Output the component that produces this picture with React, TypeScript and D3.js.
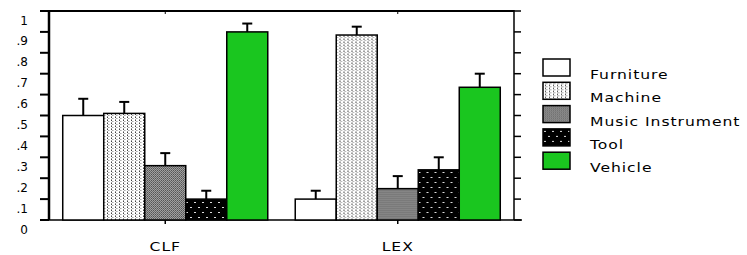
import * as d3 from "d3";

const width = 747;
const height = 255;
const margin = { left: 49, right: 233, top: 11, bottom: 35 };

const categories = ["CLF", "LEX"];
const series = ["Furniture", "Machine", "Music Instrument", "Tool", "Vehicle"];
const clfMeans = [0.5, 0.51, 0.26, 0.1, 0.9];
const clfErrors = [0.08, 0.055, 0.06, 0.04, 0.04];
const lexMeans = [0.1, 0.885, 0.15, 0.24, 0.635];
const lexErrors = [0.04, 0.04, 0.06, 0.06, 0.065];
const yTicks = [0, 0.1, 0.2, 0.3, 0.4, 0.5, 0.6, 0.7, 0.8, 0.9, 1];
const yTickLabels = ["0", ".1", ".2", ".3", ".4", ".5", ".6", ".7", ".8", ".9", "1"];

const fills = ["#ffffff", "url(#machine)", "url(#music)", "url(#tool)", "#1ac61f"];
const font = "'DejaVu Sans', Verdana, sans-serif";

export default function App() {
  const rows = categories.map((c, i) => ({
    category: c,
    means: i === 0 ? clfMeans : lexMeans,
    errors: i === 0 ? clfErrors : lexErrors,
  }));

  const right = width - margin.right;
  const bottom = height - margin.bottom;

  const x0 = d3.scaleBand().domain(categories).range([margin.left, right]).padding(0);
  const x1 = d3
    .scaleBand()
    .domain(series)
    .range([0, x0.bandwidth()])
    .paddingInner(0)
    .paddingOuter(0.335);
  const y = d3.scaleLinear().domain([0, 1]).range([bottom, margin.top]);

  return (
    <svg
      width={width}
      height={height}
      style={{ position: "absolute", left: 0, top: 0, display: "block" }}
      fontFamily={font}
    >
      <defs>
        <pattern id="machine" width={4} height={3} patternUnits="userSpaceOnUse">
          <rect width={4} height={3} fill="#ffffff" />
          <rect x={2} y={0} width={1} height={1} fill="#444" />
          <rect x={3} y={1} width={1} height={1} fill="#aaa" />
          <rect x={2} y={2} width={1} height={1} fill="#999" />
          <rect x={0} y={1} width={1} height={1} fill="#ccc" />
        </pattern>
        <pattern id="music" width={2} height={2} patternUnits="userSpaceOnUse">
          <rect width={2} height={2} fill="#a0a0a0" />
          <rect x={0} y={0} width={1} height={1} fill="#555" />
          <rect x={1} y={1} width={1} height={1} fill="#6a6a6a" />
        </pattern>
        <pattern id="tool" width={8} height={10} patternUnits="userSpaceOnUse">
          <rect width={8} height={10} fill="#000" />
          <rect x={1} y={2} width={2} height={1} fill="#ddd" />
          <rect x={5} y={7} width={2} height={1} fill="#ddd" />
        </pattern>
      </defs>

      {/* frame */}
      <line x1={40} x2={right} y1={margin.top} y2={margin.top} stroke="#000" strokeWidth={2} />
      <line x1={40} x2={right + 8} y1={bottom} y2={bottom} stroke="#000" strokeWidth={1.5} />
      <line x1={margin.left} x2={margin.left} y1={margin.top - 1} y2={bottom} stroke="#000" strokeWidth={2.5} />
      <line x1={right} x2={right} y1={margin.top - 1} y2={bottom} stroke="#000" strokeWidth={1.5} />

      {yTicks.map((t, i) => (
        <g key={t}>
          <line x1={40} x2={margin.left} y1={y(t)} y2={y(t)} stroke="#000" strokeWidth={2} />
          <line x1={right} x2={right + 7} y1={y(t)} y2={y(t)} stroke="#000" strokeWidth={1.5} />
          <text x={28} y={y(t) + 13.5} textAnchor="end" fontSize={12} fill="#000">
            {yTickLabels[i]}
          </text>
        </g>
      ))}

      {categories.map((c) => {
        const cx = (x0(c) ?? 0) + x0.bandwidth() / 2;
        return (
          <g key={c}>
            <line x1={cx} x2={cx} y1={margin.top} y2={margin.top + 3} stroke="#000" strokeWidth={1} />
            <line x1={cx} x2={cx} y1={bottom} y2={bottom + 4} stroke="#000" strokeWidth={1.5} />
            <text
              transform={`translate(${cx},251) scale(1.2,1)`}
              textAnchor="middle"
              fontSize={13}
              letterSpacing={0.8}
              fill="#000"
            >
              {c}
            </text>
          </g>
        );
      })}

      {rows.map((r) => (
        <g key={r.category} transform={`translate(${x0(r.category)},0)`}>
          {series.map((s, i) => {
            const bx = x1(s) ?? 0;
            const bw = x1.bandwidth();
            const top = y(r.means[i]);
            const errTop = y(r.means[i] + r.errors[i]);
            const cx = bx + bw / 2;
            return (
              <g key={s}>
                <line x1={cx} x2={cx} y1={top} y2={errTop} stroke="#000" strokeWidth={2} />
                <line x1={cx - 5} x2={cx + 5} y1={errTop} y2={errTop} stroke="#000" strokeWidth={2} />
                <rect
                  x={bx}
                  y={top}
                  width={bw}
                  height={bottom - top}
                  fill={fills[i]}
                  stroke="#000"
                  strokeWidth={1.5}
                />
              </g>
            );
          })}
        </g>
      ))}

      {/* legend */}
      {series.map((s, i) => (
        <g key={s} transform={`translate(543,${59 + i * 23.3})`}>
          <rect x={0} y={0} width={27} height={17} fill={fills[i]} stroke="#000" strokeWidth={1.5} />
          <text transform="translate(47,20) scale(1.2,1)" fontSize={13} letterSpacing={0.8} fill="#000">
            {s}
          </text>
        </g>
      ))}
    </svg>
  );
}
